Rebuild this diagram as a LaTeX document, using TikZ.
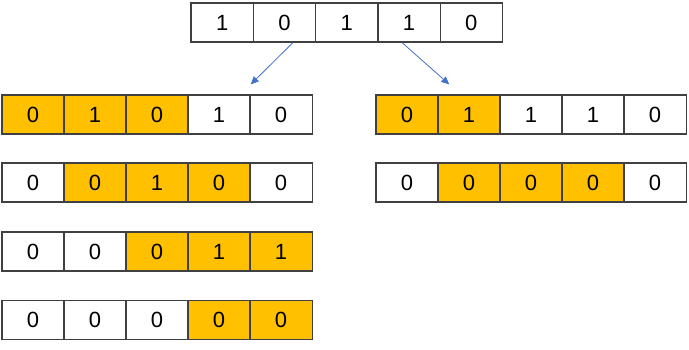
\documentclass[tikz,border=0pt]{standalone}
\usepackage{fontspec}
\setmainfont{Liberation Sans}
\usetikzlibrary{arrows.meta}
\definecolor{cellorange}{HTML}{FFC000}
\definecolor{cellborder}{HTML}{404040}
\definecolor{arrowblue}{HTML}{4472C4}
\tikzset{
  cell/.style={draw=cellborder, line width=1.2pt, fill=white, minimum width=62.2pt, minimum height=39pt, inner sep=0pt, font=\fontsize{22}{24}\selectfont},
  hot/.style={cell, fill=cellorange},
  link/.style={draw=arrowblue, line width=0.8pt, -{Triangle[width=7pt,length=8pt]}}
}
\begin{document}
\begin{tikzpicture}[x=1pt,y=-1pt]
\useasboundingbox (0,0) rectangle (689,349);
% top row
\foreach \v [count=\i] in {1,0,1,1,0} {
  \node[cell] (t\i) at ({191+62.3*(\i-0.5)},22.5) {\v};
}
% left rows
\foreach \v/\s [count=\i] in {0/hot,1/hot,0/hot,1/cell,0/cell} {
  \node[\s] (a\i) at ({2+62*(\i-0.5)},114.5) {\v};
}
\foreach \v/\s [count=\i] in {0/cell,0/hot,1/hot,0/hot,0/cell} {
  \node[\s] (b\i) at ({2+62*(\i-0.5)},182.5) {\v};
}
\foreach \v/\s [count=\i] in {0/cell,0/cell,0/hot,1/hot,1/hot} {
  \node[\s] (c\i) at ({2+62*(\i-0.5)},251.5) {\v};
}
\foreach \v/\s [count=\i] in {0/cell,0/cell,0/cell,0/hot,0/hot} {
  \node[\s] (d\i) at ({2+62*(\i-0.5)},320) {\v};
}
% right rows
\foreach \v/\s [count=\i] in {0/hot,1/hot,1/cell,1/cell,0/cell} {
  \node[\s] (e\i) at ({376+62*(\i-0.5)},114.5) {\v};
}
\foreach \v/\s [count=\i] in {0/cell,0/hot,0/hot,0/hot,0/cell} {
  \node[\s] (f\i) at ({376+62*(\i-0.5)},182.5) {\v};
}
% arrows
\coordinate (startA) at ([xshift=8.5pt]t2.south);
\coordinate (endA) at ([yshift=10pt]a4.north east);
\coordinate (startB) at ([xshift=-7pt]t4.south);
\coordinate (endB) at ([xshift=12pt,yshift=10pt]e2.north west);
\draw[link] (startA) -- (endA);
\draw[link] (startB) -- (endB);
\end{tikzpicture}
\end{document}
